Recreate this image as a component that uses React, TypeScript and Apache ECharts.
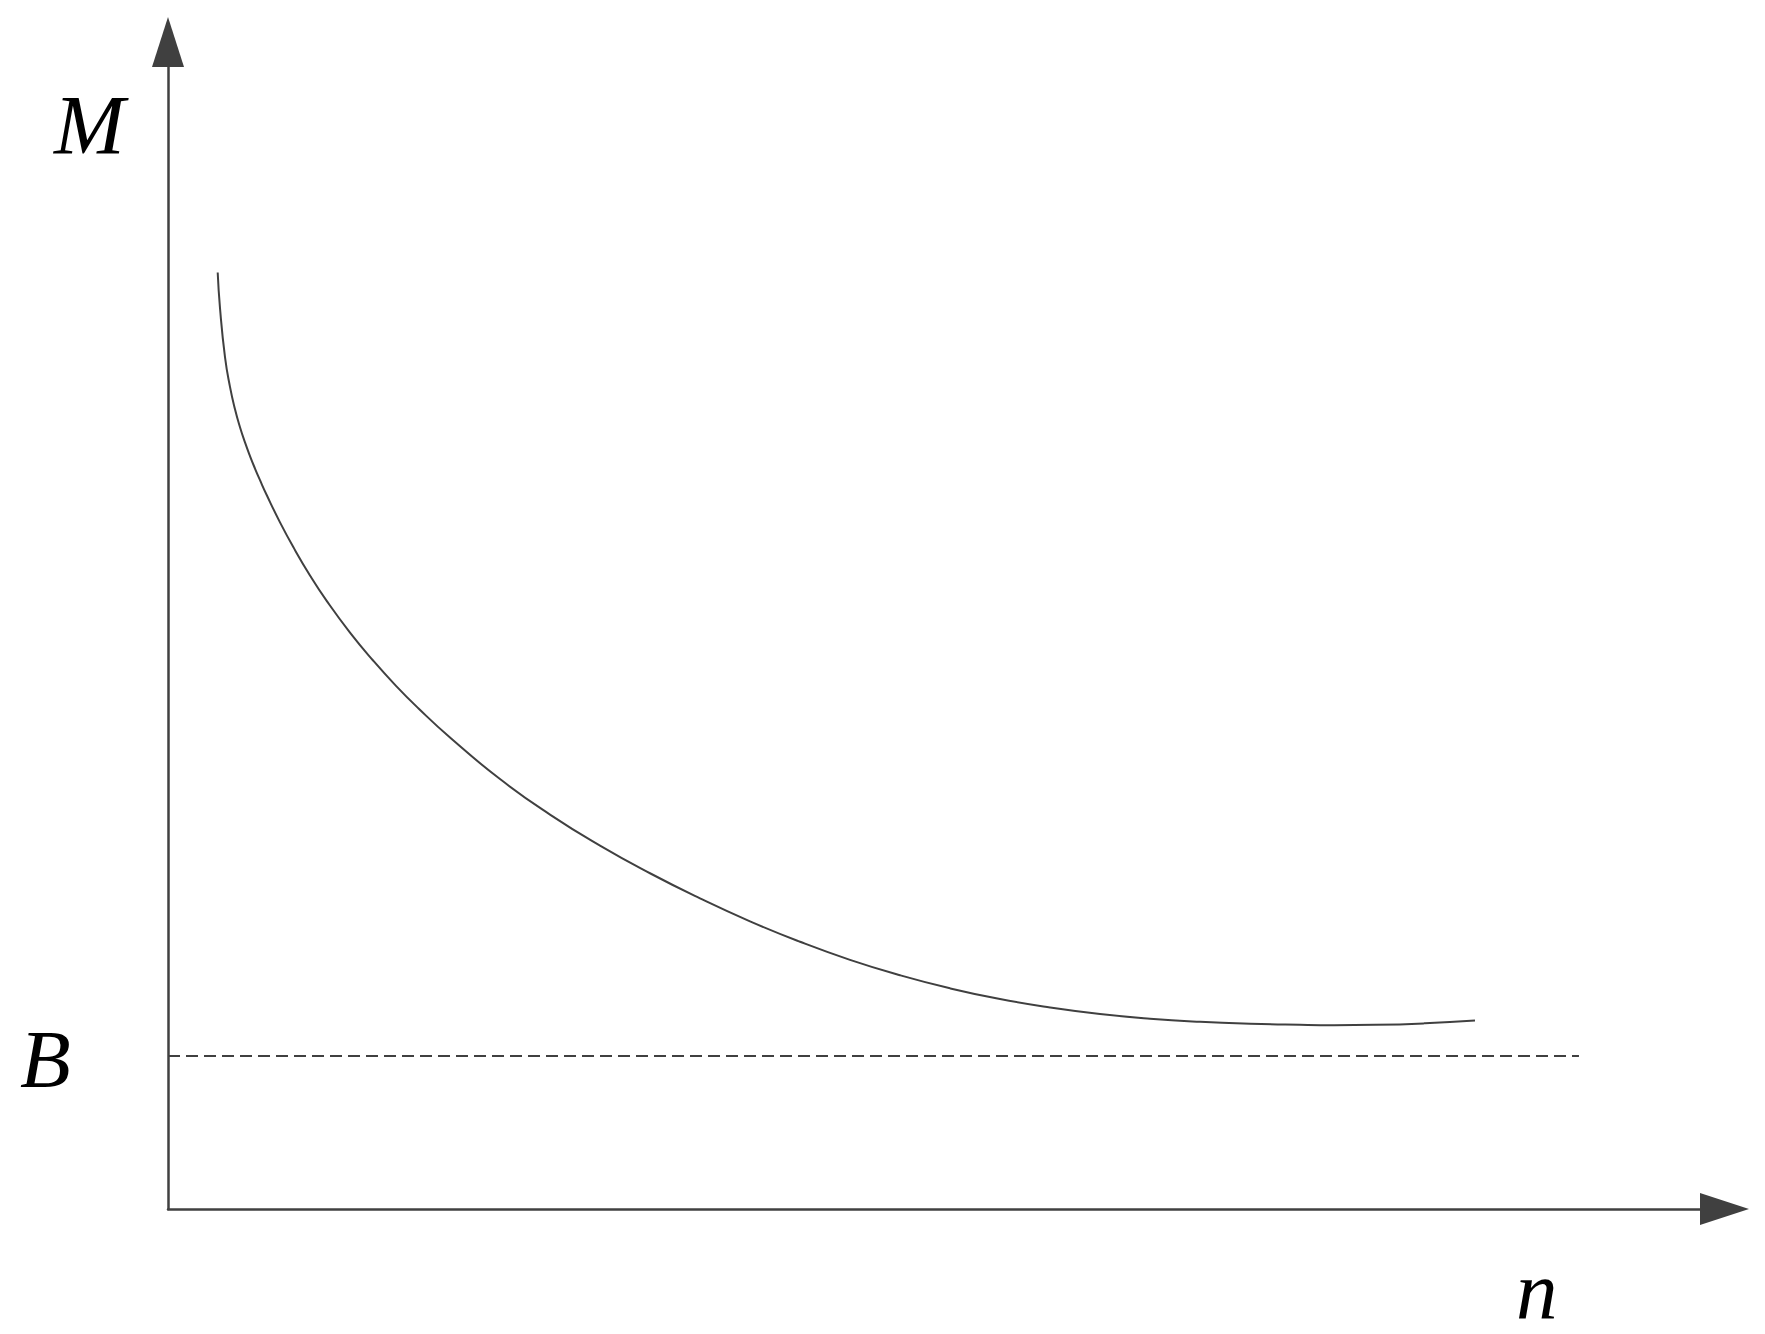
import React, { useEffect, useRef } from "react";
import * as echarts from "echarts";

// Curve M(n): n values and M values (arbitrary units, axes 0..100)
const curveN = [3.193, 3.341, 3.662, 3.983, 4.305, 4.626, 4.947, 5.268, 5.589, 5.911, 6.341, 7.196, 8.05, 9.123, 10.196, 11.693, 13.19, 14.648, 16.081, 18.118, 21.33, 24.542, 27.755, 30.967, 34.179, 37.392, 40.604, 43.816, 47.029, 50.241, 53.453, 56.666, 59.878, 63.09, 66.303, 69.515, 72.727, 74.912, 77.546, 80.758, 83.97];
const curveM = [80.25, 77.2, 73.0, 70.45, 68.53, 66.99, 65.69, 64.52, 63.45, 62.45, 61.18, 58.84, 56.72, 54.29, 52.11, 49.39, 46.98, 44.83, 42.91, 40.4, 36.84, 33.8, 31.14, 28.77, 26.62, 24.65, 22.9, 21.35, 20.03, 18.91, 17.99, 17.27, 16.71, 16.31, 16.04, 15.87, 15.78, 15.75, 15.78, 15.91, 16.15];

// Asymptote B
const bValue = [13.11];
const bRange = [0, 90.65];

// Labels
const yLabel = "M";
const xLabel = "n";
const bLabel = "B";

const AXIS_COLOR = "#404040";

export default function App() {
  const ref = useRef<HTMLDivElement>(null);
  useEffect(() => {
    if (!ref.current) return;
    const chart = echarts.init(ref.current, null, { renderer: "svg" });
    const curveData = curveN.map((n, i) => [n, curveM[i]]);
    const bData = bRange.map((n) => [n, bValue[0]]);
    const font = "'Liberation Serif', 'Times New Roman', serif";
    chart.setOption({
      animation: false,
      backgroundColor: "#ffffff",
      grid: { left: 168, right: 40.5, top: 42, bottom: 125, outerBoundsMode: "none" },
      xAxis: {
        type: "value",
        min: 0,
        max: 100,
        axisLine: {
          show: true,
          onZero: false,
          symbol: ["none", "triangle"],
          symbolSize: [32, 49],
          lineStyle: { color: AXIS_COLOR, width: 2.5 },
        },
        axisTick: { show: false },
        axisLabel: { show: false },
        splitLine: { show: false },
      },
      yAxis: {
        type: "value",
        min: 0,
        max: 100,
        axisLine: {
          show: true,
          onZero: false,
          symbol: ["none", "triangle"],
          symbolSize: [32, 50],
          lineStyle: { color: AXIS_COLOR, width: 2.5 },
        },
        axisTick: { show: false },
        axisLabel: { show: false },
        splitLine: { show: false },
      },
      series: [
        {
          type: "line",
          data: curveData,
          smooth: 0.5,
          showSymbol: false,
          symbol: "none",
          lineStyle: { color: AXIS_COLOR, width: 2 },
          silent: true,
        },
        {
          type: "line",
          data: bData,
          showSymbol: false,
          symbol: "none",
          lineStyle: { color: AXIS_COLOR, width: 2, type: [12, 6] },
          silent: true,
        },
      ],
      graphic: [
        {
          type: "text",
          x: 54,
          y: 125,
          style: { text: yLabel, font: `italic 85px ${font}`, fill: "#000", verticalAlign: "middle", align: "left", lineHeight: 70 },
        },
        {
          type: "text",
          x: 20,
          y: 1059,
          style: { text: bLabel, font: `italic 83px ${font}`, fill: "#000", verticalAlign: "middle", align: "left", lineHeight: 70 },
        },
        {
          type: "text",
          x: 1516,
          y: 1290,
          style: { text: xLabel, font: `italic 83px ${font}`, fill: "#000", verticalAlign: "middle", align: "left", lineHeight: 70 },
        },
      ],
    });
    return () => chart.dispose();
  }, []);
  return (
    <div
      ref={ref}
      style={{ position: "absolute", left: 0, top: 0, width: 1765, height: 1334 }}
    />
  );
}
